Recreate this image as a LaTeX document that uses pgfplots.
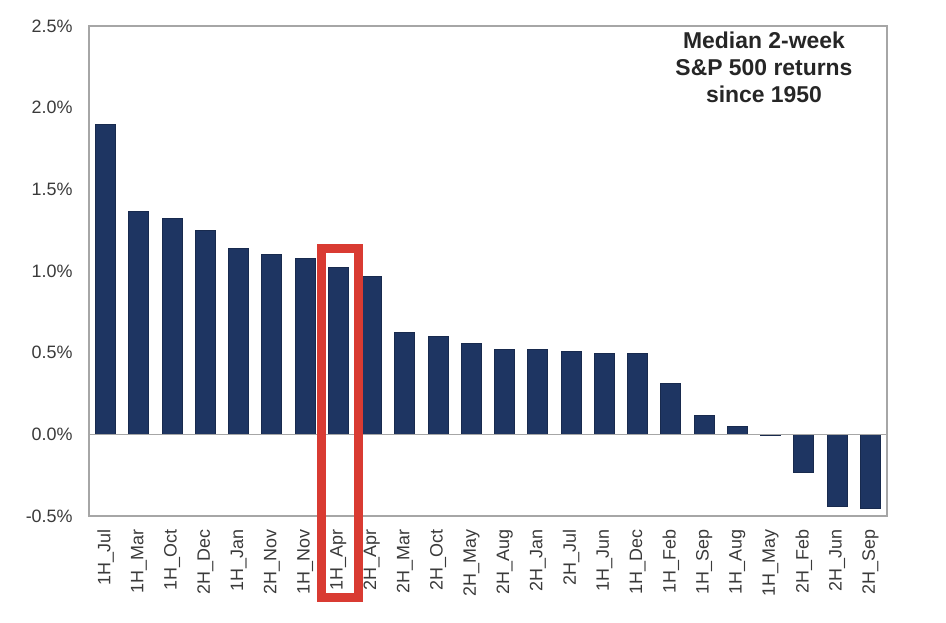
\documentclass[border=0pt]{standalone}
\usepackage{pgfplots}
\pgfplotsset{compat=1.18}
\usepackage{fontspec}
\setmainfont{Liberation Sans}
\definecolor{barblue}{HTML}{1E3562}
\definecolor{boxred}{HTML}{D93B32}
\definecolor{framegray}{HTML}{A6A6A6}
\definecolor{labelgray}{HTML}{3A3A3A}
\begin{document}
\begin{tikzpicture}
\path[use as bounding box] (0,0) rectangle (473bp,311.5bp);
\begin{axis}[
    at={(44.5bp,53.5bp)}, anchor=south west,
    scale only axis, width=399bp, height=245bp,
    ybar, bar width=10bp,
    xmin=-0.5, xmax=23.5,
    ymin=-0.5, ymax=2.5,
    clip=false,
    axis line style={framegray, line width=0.75bp},
    tick style={draw=none},
    ytick={-0.5,0,0.5,1,1.5,2,2.5},
    yticklabels={-0.5\%,0.0\%,0.5\%,1.0\%,1.5\%,2.0\%,2.5\%},
    xtick={0,...,23},
    xticklabels={1H\_Jul,1H\_Mar,1H\_Oct,2H\_Dec,1H\_Jan,2H\_Nov,1H\_Nov,1H\_Apr,
        2H\_Apr,2H\_Mar,2H\_Oct,2H\_May,2H\_Aug,2H\_Jan,2H\_Jul,1H\_Jun,1H\_Dec,
        1H\_Feb,1H\_Sep,1H\_Aug,1H\_May,2H\_Feb,2H\_Jun,2H\_Sep},
    xticklabel style={rotate=90, anchor=east, inner sep=0pt,
        font=\fontsize{9}{10}\selectfont, text=labelgray},
    yticklabel style={anchor=east, inner sep=0pt,
        font=\fontsize{9}{10}\selectfont, text=labelgray},
    xticklabel shift=2.5bp,
    yticklabel shift=8bp,
]
\addplot[fill=barblue, draw=barblue!80!black, line width=0.4bp]
    coordinates{
(0,1.90)
(1,1.364)
(2,1.32)
(3,1.25)
(4,1.138)
(5,1.10)
(6,1.075)
(7,1.02)
(8,0.965)
(9,0.622)
(10,0.598)
(11,0.555)
(12,0.522)
(13,0.522)
(14,0.51)
(15,0.495)
(16,0.495)
(17,0.31)
(18,0.118)
(19,0.047)
(20,-0.005)
(21,-0.234)
(22,-0.44)
(23,-0.455)
    };
\draw[framegray, line width=0.75bp] (axis cs:-0.5,0) -- (axis cs:23.5,0);
\draw[boxred, line width=4.5bp] (axis cs:6.49,1.135) rectangle (axis cs:7.6,-1.0);
\node[align=center, text=black!85, font=\bfseries\fontsize{11.5}{13.5}\selectfont]
    at (axis cs:19.8,2.245) {Median 2-week\\S\&P 500 returns\\since 1950};
\end{axis}
\end{tikzpicture}
\end{document}
